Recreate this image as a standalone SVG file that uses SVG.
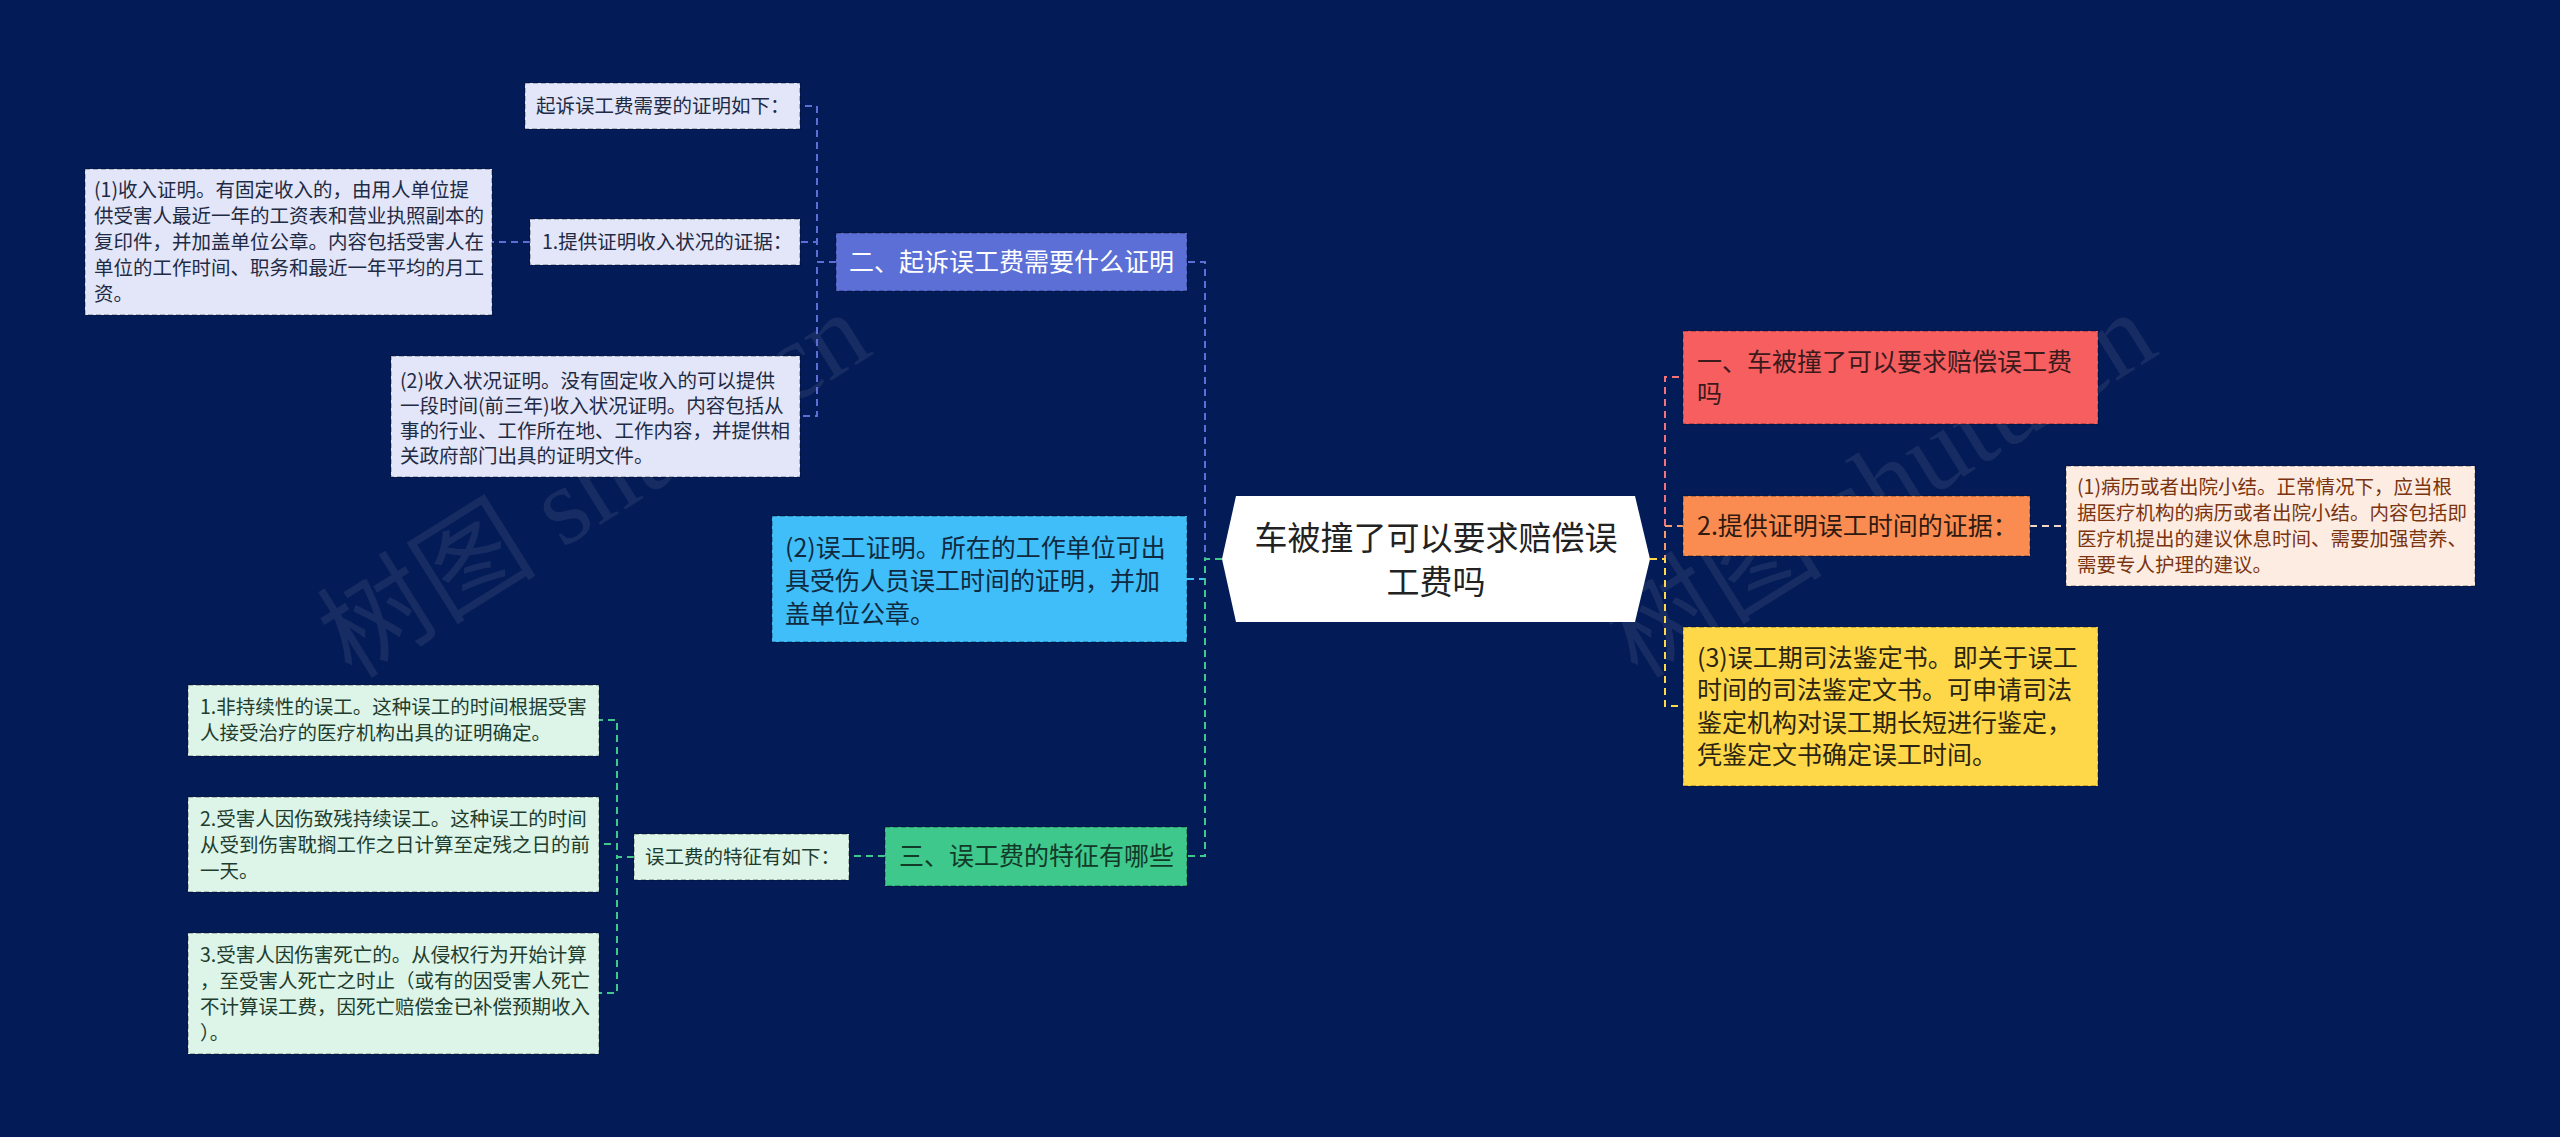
<svg xmlns="http://www.w3.org/2000/svg" width="2560" height="1137" viewBox="0 0 2560 1137">
<style>
text{font-family:"Noto Sans CJK SC","Noto Sans",sans-serif}
.s{font-size:19.5px}
.b{font-size:25px}
.box{stroke:#000;stroke-opacity:.3;stroke-width:1.5;stroke-dasharray:5 3}
.c{fill:none;stroke-width:2;stroke-dasharray:7 5}
.wm{font-family:"Liberation Serif","Noto Sans CJK SC",serif;font-size:110px;fill:#a0a6b8;fill-opacity:.13}
</style>
<rect width="2560" height="1137" fill="#031B56"/>
<g id="watermark">
<text class="wm" transform="translate(352,680) rotate(-32)">树图 shutu.cn</text>
<text class="wm" transform="translate(1638,680) rotate(-32)">树图 shutu.cn</text>
</g>
<g id="connectors">
<path class="c" stroke="#5B6FD6" d="M1222,559 H1205 V262 H1187"/>
<path class="c" stroke="#3FBEFA" d="M1222,559 H1205 V579 H1187"/>
<path class="c" stroke="#3FC88C" d="M1222,559 H1205 V856 H1187"/>
<path class="c" stroke="#F2737A" d="M1650,559 H1665 V377 H1683"/>
<path class="c" stroke="#FA9A66" d="M1650,559 H1665 V526 H1683"/>
<path class="c" stroke="#FFD84A" d="M1650,559 H1665 V706 H1683"/>
<path class="c" stroke="#F5D5C5" d="M2030,526 H2066"/>
<path class="c" stroke="#5B6FD6" d="M836,262 H817 V106 H800"/>
<path class="c" stroke="#5B6FD6" d="M836,262 H817 V242 H800"/>
<path class="c" stroke="#5B6FD6" d="M836,262 H817 V416 H800"/>
<path class="c" stroke="#5B6FD6" d="M530,242 H492"/>
<path class="c" stroke="#3FC88C" d="M885,856 H849"/>
<path class="c" stroke="#3FC88C" d="M634,857 H617 V720 H599"/>
<path class="c" stroke="#3FC88C" d="M634,857 H617 V844 H599"/>
<path class="c" stroke="#3FC88C" d="M634,857 H617 V993 H599"/>
</g>
<g id="root">
<polygon points="1236,496 1635,496 1650,559 1635,622 1236,622 1222,559" fill="#FFFFFF"/>
<text x="1436" y="550" text-anchor="middle" font-size="33" fill="#222">车被撞了可以要求赔偿误</text>
<text x="1436" y="594" text-anchor="middle" font-size="33" fill="#222">工费吗</text>
</g>
<g id="n-red">
<rect class="box" x="1683" y="331" width="415" height="93" fill="#F65E60"/>
<text class="b" x="1697" y="371" fill="#3B1A1C">一、车被撞了可以要求赔偿误工费</text>
<text class="b" x="1697" y="403" fill="#3B1A1C">吗</text>
</g>
<g id="n-orange">
<rect class="box" x="1683" y="496" width="347" height="60" fill="#FA8C52"/>
<text class="b" x="1697" y="535" fill="#2E1A10">2.提供证明误工时间的证据：</text>
</g>
<g id="n-peach">
<rect class="box" x="2066" y="466" width="409" height="120" fill="#FDECE2"/>
<text class="s" fill="#7B3410"><tspan x="2077" y="494">(1)病历或者出院小结。正常情况下，应当根</tspan><tspan x="2077" y="520">据医疗机构的病历或者出院小结。内容包括即</tspan><tspan x="2077" y="546">医疗机提出的建议休息时间、需要加强营养、</tspan><tspan x="2077" y="572">需要专人护理的建议。</tspan></text>
</g>
<g id="n-yellow">
<rect class="box" x="1683" y="627" width="415" height="159" fill="#FFD84A"/>
<text class="b" fill="#2B2410"><tspan x="1697" y="667">(3)误工期司法鉴定书。即关于误工</tspan><tspan x="1697" y="699">时间的司法鉴定文书。可申请司法</tspan><tspan x="1697" y="732">鉴定机构对误工期长短进行鉴定，</tspan><tspan x="1697" y="764">凭鉴定文书确定误工时间。</tspan></text>
</g>
<g id="n-blue">
<rect class="box" x="836" y="233" width="351" height="58" fill="#5B6FD6"/>
<text class="b" x="849" y="271" fill="#FFFFFF">二、起诉误工费需要什么证明</text>
</g>
<g id="n-l1">
<rect class="box" x="525" y="83" width="275" height="46" fill="#E2E6F8"/>
<text class="s" x="536" y="113" fill="#1F2A44">起诉误工费需要的证明如下：</text>
</g>
<g id="n-l2">
<rect class="box" x="530" y="219" width="270" height="46" fill="#E2E6F8"/>
<text class="s" x="542" y="249" fill="#1F2A44">1.提供证明收入状况的证据：</text>
</g>
<g id="n-l3">
<rect class="box" x="85" y="169" width="407" height="146" fill="#E2E6F8"/>
<text class="s" fill="#1F2A44"><tspan x="94" y="197">(1)收入证明。有固定收入的，由用人单位提</tspan><tspan x="94" y="223">供受害人最近一年的工资表和营业执照副本的</tspan><tspan x="94" y="249">复印件，并加盖单位公章。内容包括受害人在</tspan><tspan x="94" y="275">单位的工作时间、职务和最近一年平均的月工</tspan><tspan x="94" y="301">资。</tspan></text>
</g>
<g id="n-l4">
<rect class="box" x="391" y="356" width="409" height="121" fill="#E2E6F8"/>
<text class="s" fill="#1F2A44"><tspan x="400" y="388">(2)收入状况证明。没有固定收入的可以提供</tspan><tspan x="400" y="413">一段时间(前三年)收入状况证明。内容包括从</tspan><tspan x="400" y="438">事的行业、工作所在地、工作内容，并提供相</tspan><tspan x="400" y="463">关政府部门出具的证明文件。</tspan></text>
</g>
<g id="n-cyan">
<rect class="box" x="772" y="516" width="415" height="126" fill="#40BEFA"/>
<text class="b" fill="#0F2A40"><tspan x="785" y="557">(2)误工证明。所在的工作单位可出</tspan><tspan x="785" y="590">具受伤人员误工时间的证明，并加</tspan><tspan x="785" y="623">盖单位公章。</tspan></text>
</g>
<g id="n-green">
<rect class="box" x="885" y="827" width="302" height="59" fill="#3FC88C"/>
<text class="b" x="899" y="865" fill="#123A28">三、误工费的特征有哪些</text>
</g>
<g id="n-g1">
<rect class="box" x="634" y="834" width="215" height="46" fill="#DDF4E8"/>
<text class="s" x="645" y="864" fill="#1E3D2E">误工费的特征有如下：</text>
</g>
<g id="n-g2">
<rect class="box" x="188" y="685" width="411" height="71" fill="#DDF4E8"/>
<text class="s" fill="#1E3D2E"><tspan x="200" y="714">1.非持续性的误工。这种误工的时间根据受害</tspan><tspan x="200" y="740">人接受治疗的医疗机构出具的证明确定。</tspan></text>
</g>
<g id="n-g3">
<rect class="box" x="188" y="797" width="411" height="95" fill="#DDF4E8"/>
<text class="s" fill="#1E3D2E"><tspan x="200" y="826">2.受害人因伤致残持续误工。这种误工的时间</tspan><tspan x="200" y="852">从受到伤害耽搁工作之日计算至定残之日的前</tspan><tspan x="200" y="878">一天。</tspan></text>
</g>
<g id="n-g4">
<rect class="box" x="188" y="933" width="411" height="121" fill="#DDF4E8"/>
<text class="s" fill="#1E3D2E"><tspan x="200" y="962">3.受害人因伤害死亡的。从侵权行为开始计算</tspan><tspan x="200" y="988">，至受害人死亡之时止（或有的因受害人死亡</tspan><tspan x="200" y="1014">不计算误工费，因死亡赔偿金已补偿预期收入</tspan><tspan x="200" y="1040">）。</tspan></text>
</g>
</svg>
